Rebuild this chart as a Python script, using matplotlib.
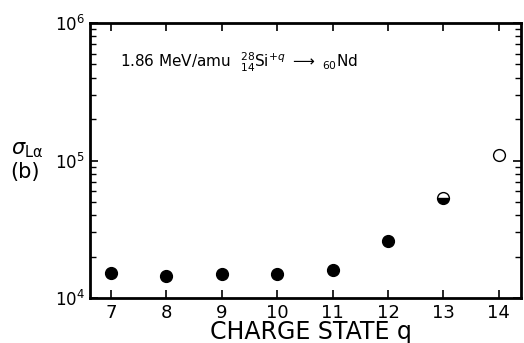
import matplotlib
matplotlib.use("Agg")
import matplotlib.pyplot as plt
from matplotlib.ticker import LogLocator, NullFormatter, FixedLocator

charge_full = [7, 8, 9, 10, 11, 12]
sigma_full = [1.53e4, 1.45e4, 1.49e4, 1.49e4, 1.60e4, 2.6e4]
charge_half = [13]
sigma_half = [5.3e4]
charge_open = [14]
sigma_open = [1.1e5]
xticks = [7, 8, 9, 10, 11, 12, 13, 14]
yticks = [1e4, 1e5, 1e6]
ytick_labels = [r"$10^4$", r"$10^5$", r"$10^6$"]

fig = plt.figure(figsize=(5.24, 3.43), dpi=100)
ax = fig.add_axes([90/524, 1-298/343, (521-90)/524, (298-23)/343])

ax.plot(charge_full, sigma_full, 'o', color='black', markersize=8.5, linestyle='none')
ax.plot(charge_half, sigma_half, 'o', color='black', markersize=8.5, fillstyle='bottom',
        markerfacecoloralt='white', markeredgewidth=1.0, linestyle='none')
ax.plot(charge_open, sigma_open, 'o', markerfacecolor='white', markeredgecolor='black',
        markersize=8.5, markeredgewidth=1.0, linestyle='none')

ax.set_yscale('log')
ax.set_ylim(1e4, 1e6)
ax.set_xlim(6.62, 14.4)
ax.set_xticks(xticks)
ax.set_xticklabels([str(v) for v in xticks], fontsize=13)
ax.yaxis.set_major_locator(FixedLocator(yticks))
ax.set_yticklabels(ytick_labels, fontsize=12)
ax.yaxis.set_minor_locator(LogLocator(base=10, subs=range(2, 10)))
ax.yaxis.set_minor_formatter(NullFormatter())

ax.tick_params(axis='both', which='major', direction='in', length=6, width=1.2,
               top=True, right=True)
ax.tick_params(axis='x', which='major', pad=4)
ax.tick_params(axis='y', which='minor', direction='in', length=4, width=1.0,
               left=True, right=True)
for s in ax.spines.values():
    s.set_linewidth(2.0)

ax.text(7.16, 5.2e5, r"1.86 MeV/amu  $^{28}_{14}$Si$^{+q}$ $\longrightarrow$ $_{60}$Nd",
        fontsize=11, ha='left', va='center')

fig.text(27/524, 1-150/343, r"$\sigma_{\rm L\alpha}$", fontsize=15, ha='center', va='center')
fig.text(25/524, 1-172/343, "(b)", fontsize=15, ha='center', va='center')
fig.text(311/524, 1-339/343, "CHARGE STATE q", fontsize=17, ha='center', va='baseline')

fig.savefig("out.png", dpi=100)
